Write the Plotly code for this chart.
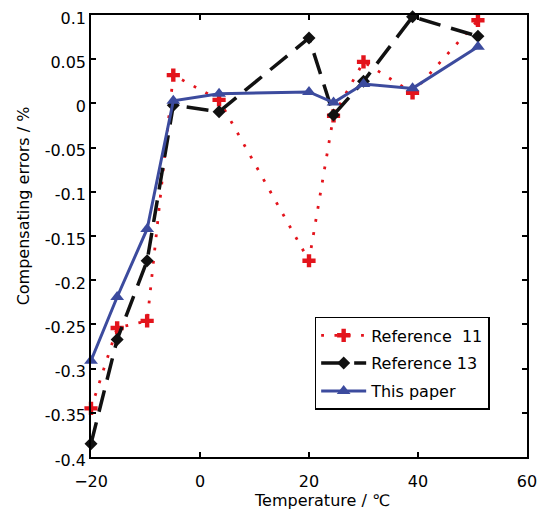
import plotly.graph_objects as go

temps = [-20, -15.2, -9.7, -4.9, 3.5, 20.0, 24.5, 30.0, 39.0, 51.0]
ref11 = [-0.345, -0.254, -0.246, 0.032, 0.004, -0.178, -0.014, 0.047, 0.012, 0.094]
ref13 = [-0.385, -0.267, -0.178, -0.002, -0.0095, 0.074, -0.013, 0.025, 0.098, 0.076]
this_paper = [-0.291, -0.219, -0.142, 0.003, 0.011, 0.013, 0.001, 0.022, 0.017, 0.064]

names = ["Reference  11", "Reference 13", "This paper"]
x_ticks = [-20, 0, 20, 40, 60]
y_ticks = [0.1, 0.05, 0, -0.05, -0.1, -0.15, -0.2, -0.25, -0.3, -0.35, -0.4]
y_labels = ["0.1", "0.05", "0", "-0.05", "-0.1", "-0.15", "-0.2", "-0.25", "-0.3", "-0.35", "-0.4"]
x_title = "Temperature / ℃"
y_title = "Compensating errors / %"

RED = "#e3141c"
BLUE = "#3c4b9e"
FONT = "DejaVu Sans"

fig = go.Figure()
fig.add_trace(go.Scatter(
    x=temps, y=ref11, name=names[0], mode="lines+markers", legendgroup="a",
    line=dict(color=RED, width=2.8, dash="2.8px,10.5px"),
    marker=dict(symbol="cross", size=11, color=RED),
    cliponaxis=False,
))
fig.add_trace(go.Scatter(
    x=temps, y=ref13, name=names[1], mode="lines+markers", legendgroup="b",
    line=dict(color="#111111", width=3.5, dash="22px,11px"),
    marker=dict(symbol="diamond", size=10, color="#111111"),
    cliponaxis=False,
))
fig.add_trace(go.Scatter(
    x=temps, y=this_paper, name=names[2], mode="lines+markers", legendgroup="c",
    line=dict(color=BLUE, width=3),
    marker=dict(symbol="triangle-up", size=12, color=BLUE),
    cliponaxis=False,
))

axis_common = dict(
    showline=True, linecolor="black", linewidth=1.5, mirror="ticks",
    ticks="inside", ticklen=5, tickwidth=1.5, tickcolor="black",
    showgrid=False, zeroline=False, automargin=False,
    ticklabeloverflow="allow",
    tickfont=dict(family=FONT, size=16, color="black"),
)

# page body has an 8px default margin, so the figure is 8px smaller and offset
fig.update_layout(
    width=538, height=506,
    margin=dict(l=83, r=19, t=7, b=57),
    paper_bgcolor="white", plot_bgcolor="white",
    font=dict(family=FONT, size=16, color="black"),
    xaxis=dict(range=[-20, 60], tickvals=x_ticks, ticklabelstandoff=9, **axis_common),
    yaxis=dict(range=[-0.4, 0.1], tickvals=y_ticks, ticktext=y_labels,
               ticklabelshift=3, **axis_common),
    legend=dict(x=0.513, y=0.317, xanchor="left", yanchor="top",
                bordercolor="black", borderwidth=1.5, bgcolor="white",
                font=dict(family=FONT, size=16, color="black"),
                tracegroupgap=4, itemwidth=45),
    showlegend=True,
    annotations=[
        dict(text=x_title, xref="paper", yref="paper", x=0.53, y=-0.0995,
             xanchor="center", yanchor="middle", showarrow=False,
             font=dict(family=FONT, size=16, color="black")),
        dict(text=y_title, xref="paper", yref="paper", x=-0.154, y=0.569,
             xanchor="center", yanchor="middle", showarrow=False, textangle=-90,
             font=dict(family=FONT, size=16, color="black")),
    ],
)

fig.write_html("out.html")
